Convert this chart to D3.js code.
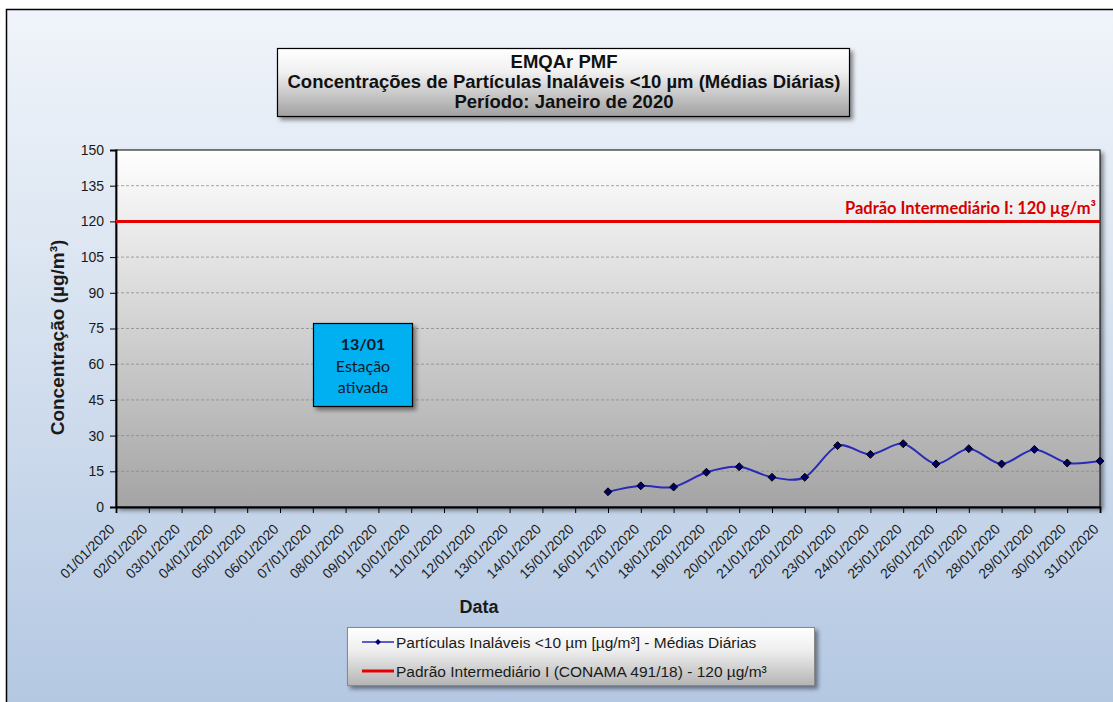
<!DOCTYPE html>
<html>
<head>
<meta charset="utf-8">
<script src="https://cdn.jsdelivr.net/npm/d3@7"></script>
<style>
  body { margin: 0; background: #fff; }
  svg { display: block; }
</style>
</head>
<body>
<svg width="1113" height="702"></svg>
<script>
// dados
const dates = [
  "01/01/2020", "02/01/2020", "03/01/2020", "04/01/2020", "05/01/2020", "06/01/2020",
  "07/01/2020", "08/01/2020", "09/01/2020", "10/01/2020", "11/01/2020", "12/01/2020",
  "13/01/2020", "14/01/2020", "15/01/2020", "16/01/2020", "17/01/2020", "18/01/2020",
  "19/01/2020", "20/01/2020", "21/01/2020", "22/01/2020", "23/01/2020", "24/01/2020",
  "25/01/2020", "26/01/2020", "27/01/2020", "28/01/2020", "29/01/2020", "30/01/2020",
  "31/01/2020"
];
const pm10 = [
  null, null, null, null, null, null, null, null, null, null, null, null, null, null, null,
  6.4, 8.9, 8.4, 14.6, 16.9, 12.5, 12.5, 25.8, 22.1, 26.6, 18.1, 24.5, 18.1, 24.2, 18.5, 19.3
];
const padrao = 120;
const yTicks = [0, 15, 30, 45, 60, 75, 90, 105, 120, 135, 150];
const titleLines = [
  "EMQAr PMF",
  "Concentrações de Partículas Inaláveis <10 µm (Médias Diárias)",
  "Período: Janeiro de 2020"
];
const legendItems = [
  "Partículas Inaláveis <10 µm [µg/m³] - Médias Diárias",
  "Padrão Intermediário I (CONAMA 491/18) - 120 µg/m³"
];
const noteLines = ["13/01", "Estação", "ativada"];

const svg = d3.select("svg");
const plot = { left: 116, right: 1100, top: 150, bottom: 507 };
const arial = "'Liberation Sans', Arial, sans-serif";
const calibri = "Lato, 'Open Sans', sans-serif";

const defs = svg.append("defs");
function grad(id, stops) {
  const g = defs.append("linearGradient").attr("id", id)
    .attr("x1", 0).attr("y1", 0).attr("x2", 0).attr("y2", 1);
  stops.forEach(([o, c]) => g.append("stop").attr("offset", o).attr("stop-color", c));
}
grad("bgGrad", [[0, "#f0f4fa"], [0.3, "#dfe8f3"], [1, "#b3c7e2"]]);
grad("plotGrad", [[0, "#ffffff"], [1, "#a4a4a4"]]);
grad("boxGrad", [[0, "#ffffff"], [0.35, "#f0f0f0"], [1, "#a0a0a0"]]);
grad("legGrad", [[0, "#ffffff"], [0.4, "#eeeeee"], [1, "#b4b4b4"]]);

const shadow = defs.append("filter").attr("id", "shadow")
  .attr("x", "-10%").attr("y", "-10%").attr("width", "130%").attr("height", "140%");
shadow.append("feDropShadow").attr("dx", 3).attr("dy", 3).attr("stdDeviation", 2)
  .attr("flood-color", "#000").attr("flood-opacity", 0.45);

// fundo do gráfico
svg.append("rect").attr("x", 6.5).attr("y", 9.5).attr("width", 1120).attr("height", 710)
  .attr("fill", "url(#bgGrad)").attr("stroke", "#000").attr("stroke-width", 1.5);

const x = d3.scalePoint().domain(dates).range([plot.left, plot.right]);
const y = d3.scaleLinear().domain([0, 150]).range([plot.bottom, plot.top]);

// área de plotagem
svg.append("rect")
  .attr("x", plot.left).attr("y", plot.top)
  .attr("width", plot.right - plot.left).attr("height", plot.bottom - plot.top)
  .attr("fill", "url(#plotGrad)").attr("stroke", "#000").attr("stroke-width", 1)
  .attr("filter", "url(#shadow)");

// grade
svg.append("g").selectAll("line")
  .data(yTicks.filter(d => d > 0 && d < 150))
  .join("line")
  .attr("x1", plot.left).attr("x2", plot.right)
  .attr("y1", d => y(d)).attr("y2", d => y(d))
  .attr("stroke", "#8c8c8c").attr("stroke-width", 0.8).attr("stroke-dasharray", "3,2");

// eixos
const yAxis = svg.append("g").attr("transform", `translate(${plot.left},0)`)
  .call(d3.axisLeft(y).tickValues(yTicks).tickSize(6).tickPadding(6));
const xAxis = svg.append("g").attr("transform", `translate(0,${plot.bottom})`)
  .call(d3.axisBottom(x).tickSize(6).tickPadding(4));

[yAxis, xAxis].forEach(a => {
  a.select(".domain").attr("stroke", "#000").attr("stroke-width", 1.8);
  a.selectAll(".tick line").attr("stroke", "#000").attr("stroke-width", 1);
  a.selectAll("text").attr("fill", "#1a1a1a").attr("font-family", arial);
});
yAxis.selectAll("text").attr("font-size", 14);
xAxis.selectAll("text")
  .attr("font-size", 14)
  .attr("text-anchor", "end")
  .attr("y", 0).attr("dx", 0).attr("dy", 0)
  .attr("transform", "translate(-1,23) rotate(-45)");

// padrão
svg.append("line")
  .attr("x1", plot.left).attr("x2", plot.right)
  .attr("y1", y(padrao)).attr("y2", y(padrao))
  .attr("stroke", "#e60000").attr("stroke-width", 3);
svg.append("text")
  .attr("x", plot.right - 4).attr("y", y(padrao) - 7)
  .attr("text-anchor", "end")
  .attr("font-family", calibri).attr("font-weight", "bold").attr("font-size", 16.5)
  .attr("fill", "#d40000")
  .text("Padrão Intermediário I: 120 µg/m³");

// série
const series = dates.map((d, i) => ({ date: d, value: pm10[i] })).filter(d => d.value != null);
svg.append("path")
  .datum(series)
  .attr("fill", "none").attr("stroke", "#2a2ab8").attr("stroke-width", 2)
  .attr("d", d3.line().x(d => x(d.date)).y(d => y(d.value)).curve(d3.curveCardinal.tension(0.1)));
svg.append("g").selectAll("path")
  .data(series)
  .join("path")
  .attr("transform", d => `translate(${x(d.date)},${y(d.value)})`)
  .attr("d", d3.symbol(d3.symbolDiamond2, 40))
  .attr("fill", "#000066").attr("stroke", "#000").attr("stroke-width", 1);

// título dos eixos
svg.append("text")
  .attr("transform", `translate(64,${(plot.top + plot.bottom) / 2 + 9}) rotate(-90)`)
  .attr("text-anchor", "middle")
  .attr("font-family", arial).attr("font-weight", "bold").attr("font-size", 19)
  .attr("fill", "#1a1a1a")
  .text("Concentração (µg/m³)");
svg.append("text")
  .attr("x", 479).attr("y", 613)
  .attr("text-anchor", "middle")
  .attr("font-family", arial).attr("font-weight", "bold").attr("font-size", 18)
  .attr("fill", "#1a1a1a")
  .text("Data");

// título
svg.append("rect").attr("x", 277.5).attr("y", 48.5).attr("width", 572).attr("height", 68)
  .attr("fill", "url(#boxGrad)").attr("stroke", "#000").attr("stroke-width", 1.2)
  .attr("filter", "url(#shadow)");
svg.append("g").selectAll("text")
  .data(titleLines)
  .join("text")
  .attr("x", 564).attr("y", (d, i) => 68 + i * 20)
  .attr("text-anchor", "middle")
  .attr("font-family", arial).attr("font-weight", "bold").attr("font-size", 18.5)
  .attr("fill", "#111")
  .text(d => d);

// nota
svg.append("rect").attr("x", 313.5).attr("y", 323.5).attr("width", 99).attr("height", 83)
  .attr("fill", "#00b0f0").attr("stroke", "#000").attr("stroke-width", 1.2)
  .attr("filter", "url(#shadow)");
svg.append("g").selectAll("text")
  .data(noteLines)
  .join("text")
  .attr("x", 363).attr("y", (d, i) => 350 + i * 21.5)
  .attr("text-anchor", "middle")
  .attr("font-family", calibri).attr("font-size", 16)
  .attr("font-weight", (d, i) => i === 0 ? "bold" : "normal")
  .attr("fill", "#0d1a26")
  .text(d => d);

// legenda
svg.append("rect").attr("x", 347.5).attr("y", 627.5).attr("width", 467).attr("height", 58)
  .attr("fill", "url(#legGrad)").attr("stroke", "#888").attr("stroke-width", 1)
  .attr("filter", "url(#shadow)");
const leg = svg.append("g").selectAll("g")
  .data(legendItems)
  .join("g")
  .attr("transform", (d, i) => `translate(362,${642 + i * 29})`);
leg.append("line")
  .attr("x1", 0).attr("x2", 32)
  .attr("stroke", (d, i) => i === 0 ? "#2a2ab8" : "#e60000")
  .attr("stroke-width", (d, i) => i === 0 ? 1.5 : 3);
leg.filter((d, i) => i === 0).append("path")
  .attr("transform", "translate(16,0)")
  .attr("d", d3.symbol(d3.symbolDiamond2, 22))
  .attr("fill", "#000066");
leg.append("text")
  .attr("x", 34).attr("y", 5.5)
  .attr("font-family", arial).attr("font-size", 15.5)
  .attr("fill", "#1a1a1a")
  .text(d => d);
</script>
</body>
</html>
